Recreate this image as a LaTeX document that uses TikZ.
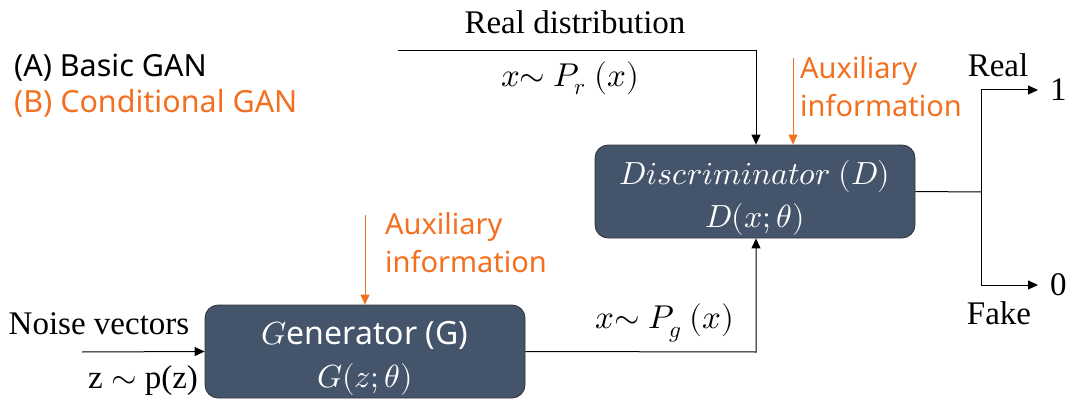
\documentclass[tikz,border=0pt]{standalone}
\usepackage{fontspec}
\usepackage{unicode-math}
\setmainfont{Liberation Serif}
\setmathfont{Latin Modern Math}
\newfontfamily\legendfont{Noto Sans}
\usetikzlibrary{arrows.meta}
\definecolor{boxfill}{RGB}{68,84,106}
\definecolor{auxorange}{RGB}{242,112,32}
\tikzset{
  blockbox/.style={draw=black!80, fill=boxfill, rounded corners=13pt, minimum width=320pt, minimum height=93pt, text=white, align=center, inner sep=0pt, line width=0.8pt, font=\fontsize{32}{43}\selectfont},
  conn/.style={draw=black, line width=1pt, -{Triangle[length=10pt,width=9pt]}},
  plainconn/.style={draw=black, line width=1pt},
  auxconn/.style={draw=auxorange, line width=1pt, -{Triangle[length=10pt,width=9pt]}},
  serif/.style={font=\fontsize{33}{38}\selectfont, inner sep=0pt},
  auxtext/.style={font=\legendfont\fontsize{29}{38}\selectfont, text=auxorange, align=left, inner sep=0pt},
  legend/.style={font=\legendfont\fontsize{30.5}{34}\selectfont, inner sep=0pt, anchor=west},
}
\begin{document}
\begin{tikzpicture}[x=1pt,y=-1pt]
\useasboundingbox (0,0) rectangle (1073,401);
% boxes
\node[blockbox] (D) at (755,191.5) {\rule{0pt}{36pt}$Discriminator\ (D)$\\ $D(x;\theta)$};
\node[blockbox] (G) at (365,351.5) {\rule{0pt}{36pt}$G$\legendfont enerator (G)\\ $G(z;\theta)$};
% legend
\node[legend] (la) at (14,68) {(A) Basic GAN};
\node[legend, text=auxorange] (lb) at (14,103) {(B) Conditional GAN};
% real distribution
\coordinate (rstart) at (398,51);
\coordinate (rcorner) at (756,51);
\node[serif] (rtxt) at (575,22) {Real distribution};
\node[serif] (prtxt) at (570,78) {$x{\sim}\ P_r\ (x)$};
\draw[conn] (rstart) -- (rcorner) -- (D.north -| rcorner);
% aux for D
\coordinate (auxD) at (793,58);
\draw[auxconn] (auxD) -- (D.north -| auxD);
\node[auxtext, anchor=north west] (auxDt) at (800,56) {Auxiliary\\information};
% aux for G
\coordinate (auxG) at (365,215);
\draw[auxconn] (auxG) -- (G.north);
\node[auxtext, anchor=north west] (auxGt) at (385,212) {Auxiliary\\information};
% noise
\coordinate (nstart) at (82,352);
\draw[conn] (nstart) -- (G.west);
\node[serif] (ntxt) at (99,324) {Noise vectors};
\node[serif] (ztxt) at (143,381) {z $\sim$ p(z)};
% G to D
\coordinate (gcorner) at (756,352);
\draw[conn] (G.east) -- (gcorner) -- (D.south -| gcorner);
\node[serif] (pgtxt) at (665,323) {$x{\sim}\ P_g\ (x)$};
% outputs
\coordinate (split) at (981,192);
\coordinate (top) at (981,90);
\coordinate (bot) at (981,285);
\node[serif, anchor=west, inner xsep=12pt] (one) at (1038,90) {1};
\node[serif, anchor=west, inner xsep=12pt] (zero) at (1038,285) {0};
\draw[plainconn] (D.east) -- (split);
\draw[plainconn] (top) -- (bot);
\draw[conn] (top) -- (one.west);
\draw[conn] (bot) -- (zero.west);
\node[serif] (realt) at (998,65) {Real};
\node[serif] (faket) at (999,313) {Fake};
\end{tikzpicture}
\end{document}
